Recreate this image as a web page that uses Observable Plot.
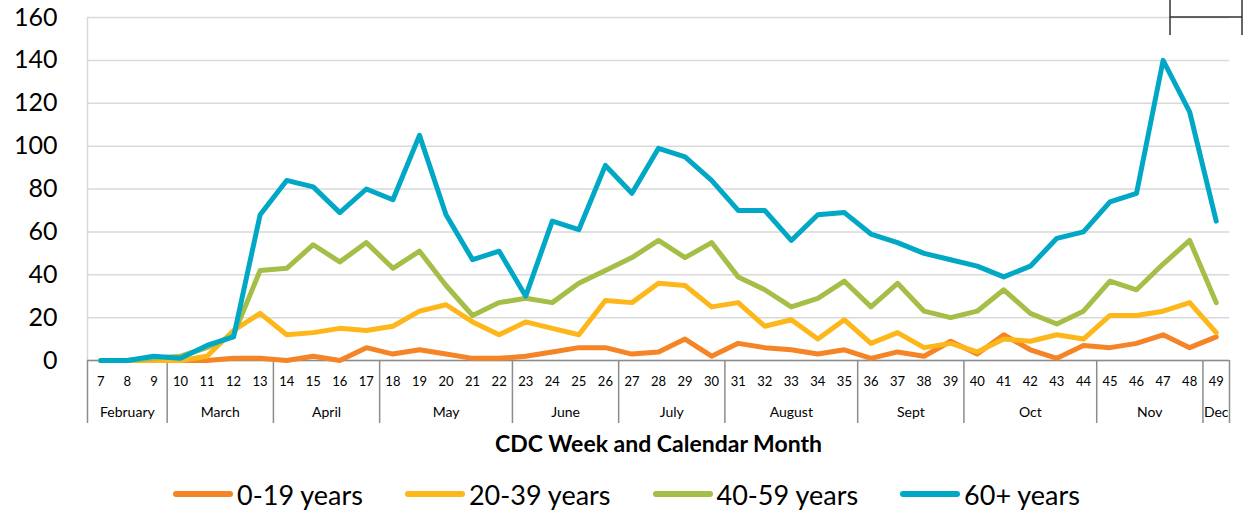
<!DOCTYPE html>
<html>
<head>
<meta charset="utf-8">
<script src="https://cdn.jsdelivr.net/npm/d3@7"></script>
<script src="https://cdn.jsdelivr.net/npm/@observablehq/plot@0.6"></script>
<style>
  body { margin: 0; background: #fff; font-family: Lato, "Open Sans", sans-serif; }
  #legend { display: flex; justify-content: center; align-items: center; gap: 42px; height: 44px; padding-top: 2px; font-size: 27px; color: #000; }
  #legend .item { display: flex; align-items: center; }
  #legend .sw { width: 60px; height: 6px; border-radius: 3px; margin-right: 4px; }
</style>
</head>
<body>
<div id="chart"></div>
<div id="legend"></div>
<script>
const weeks = [7,8,9,10,11,12,13,14,15,16,17,18,19,20,21,22,23,24,25,26,27,28,29,30,31,32,33,34,35,36,37,38,39,40,41,42,43,44,45,46,47,48,49];
const age0_19  = [0,0,0,0,0,1,1,0,2,0,6,3,5,3,1,1,2,4,6,6,3,4,10,2,8,6,5,3,5,1,4,2,9,3,12,5,1,7,6,8,12,6,11];
const age20_39 = [0,0,0,0,2,14,22,12,13,15,14,16,23,26,18,12,18,15,12,28,27,36,35,25,27,16,19,10,19,8,13,6,8,4,10,9,12,10,21,21,23,27,13];
const age40_59 = [0,0,1,2,6,12,42,43,54,46,55,43,51,35,21,27,29,27,36,42,48,56,48,55,39,33,25,29,37,25,36,23,20,23,33,22,17,23,37,33,45,56,27];
const age60p   = [0,0,2,1,7,11,68,84,81,69,80,75,105,68,47,51,30,65,61,91,78,99,95,84,70,70,56,68,69,59,55,50,47,44,39,44,57,60,74,78,140,116,65];
const groups = ["0-19 years","20-39 years","40-59 years","60+ years"];
const colors = ["#F58426","#FDB71A","#A5BE47","#00A8C6"];
const monthNames = ["February","March","April","May","June","July","August","Sept","Oct","Nov","Dec"];
const monthFirst = [7,10,14,18,23,27,31,36,40,45,49];
const monthLast  = [9,13,17,22,26,30,35,39,44,48,49];
const yTicks = [0,20,40,60,80,100,120,140,160];
const xTitle = "CDC Week and Calendar Month";

const seriesList = [age0_19, age20_39, age40_59, age60p];
const data = [];
seriesList.forEach((s, gi) => s.forEach((v, i) => data.push({group: groups[gi], week: weeks[i], value: v})));
const months = monthNames.map((m, i) => ({name: m, mid: (monthFirst[i] + monthLast[i]) / 2}));
const bounds = [monthFirst[0] - 0.5, ...monthLast.map(d => d + 0.5)];

const font = "Lato, 'Open Sans', sans-serif";
const plot = Plot.plot({
  width: 1253,
  height: 470,
  marginLeft: 87,
  marginRight: 24,
  marginTop: 17,
  marginBottom: 110,
  style: {fontFamily: font, color: "#000", background: "#fff"},
  x: {type: "linear", domain: [weeks[0] - 0.5, weeks[weeks.length - 1] + 0.5], axis: null},
  y: {domain: [0, 160], axis: null},
  color: {domain: groups, range: colors},
  marks: [
    Plot.gridY(yTicks, {stroke: "#d9d9d9", strokeOpacity: 1, strokeWidth: 1.5}),
    Plot.ruleX([bounds[0]], {stroke: "#d9d9d9", strokeWidth: 1.5}),
    Plot.ruleX(bounds, {x: d => d, y1: 0, y2: 0, insetBottom: -63, stroke: "#8c8c8c", strokeWidth: 1.5}),
    Plot.ruleY([0], {stroke: "#8c8c8c", strokeWidth: 1.5}),
    Plot.axisY(yTicks, {tickSize: 0, tickPadding: 30, fontSize: 25, fill: "#000", label: null}),
    Plot.text(weeks, {x: d => d, y: 0, dy: 21, text: d => String(d), fontSize: 13, fill: "#000", lineAnchor: "middle"}),
    Plot.text(months, {x: "mid", y: 0, dy: 52, text: "name", fontSize: 14, fill: "#000", lineAnchor: "middle"}),
    Plot.text([xTitle], {frameAnchor: "bottom", dy: 84, text: d => d, fontSize: 23, fontWeight: "bold", fill: "#000", lineAnchor: "middle"}),
    Plot.line(data, {x: "week", y: "value", z: "group", stroke: "group", strokeWidth: 5, strokeLinejoin: "round", strokeLinecap: "round"})
  ]
});
document.getElementById("chart").appendChild(plot);

// decorative bracket artifact at top-right of the original image
const svg = d3.select(plot);
svg.append("path")
  .attr("d", "M1170,0V35M1242,0V35M1170,17H1242")
  .attr("stroke", "#333").attr("stroke-width", 1.5).attr("fill", "none");

const legend = d3.select("#legend");
groups.forEach((g, i) => {
  const it = legend.append("div").attr("class", "item");
  it.append("div").attr("class", "sw").style("background", colors[i]);
  it.append("span").text(g);
});
</script>
</body>
</html>
